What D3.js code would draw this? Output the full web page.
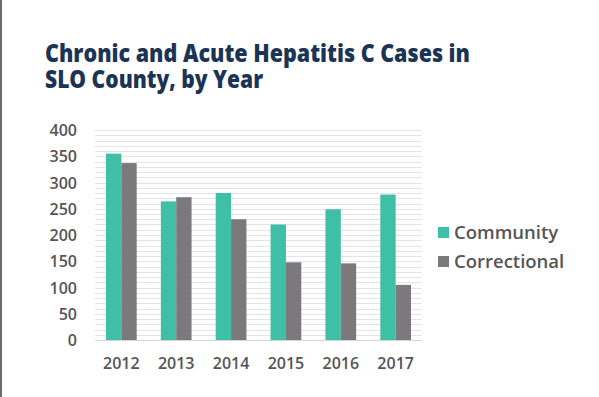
<!DOCTYPE html>
<html><head><meta charset="utf-8">
<script src="https://cdn.jsdelivr.net/npm/d3@7"></script>
<style>
html,body{margin:0;padding:0;background:#fff;}
svg{display:block;font-family:"Open Sans",sans-serif;}
</style></head>
<body>
<svg id="c" width="599" height="397"></svg>
<script>
const years = ["2012","2013","2014","2015","2016","2017"];
const community = [355, 264, 280, 220, 249, 277];
const correctional = [337, 272, 230, 148, 146, 105];
const seriesNames = ["Community","Correctional"];
const seriesColors = ["#3fbfa5","#7c797c"];
const yTicks = [0,50,100,150,200,250,300,350,400];
const titleLines = ["Chronic and Acute Hepatitis C Cases in","SLO County, by Year"];

const svg = d3.select("#c");
svg.append("rect").attr("x",0).attr("y",0).attr("width",599).attr("height",397).attr("fill","#fff");
svg.append("rect").attr("x",0).attr("y",0).attr("width",2).attr("height",397).attr("fill","#6b6b6b");

const pLeft=95, pRight=422, pTop=130, pBottom=340;
const y = d3.scaleLinear().domain([0,400]).range([pBottom,pTop]);
const x = d3.scaleBand().domain(years).range([pLeft,pRight]).paddingInner(0.44).paddingOuter(0.2);
const xs = d3.scaleBand().domain(seriesNames).range([0,x.bandwidth()]);

// grid lines every 10
const grid = d3.range(0,401,10);
svg.append("g").selectAll("line").data(grid).join("line")
  .attr("x1",pLeft).attr("x2",pRight)
  .attr("y1",d=>Math.round(y(d))+0.5).attr("y2",d=>Math.round(y(d))+0.5)
  .attr("stroke",d=>d===0?"#d6d6d6":"#e4e4e8").attr("stroke-width",1);

// y axis
const yAxis = d3.axisLeft(y).tickValues(yTicks).tickSize(0).tickPadding(0);
const gy = svg.append("g").attr("transform",`translate(77,0)`).call(yAxis);
gy.select(".domain").remove();
gy.selectAll("text").attr("font-size",16).attr("font-weight",600).attr("fill","#555557").attr("font-family","Open Sans").attr("dy","0.35em");

// x axis
const xAxis = d3.axisBottom(x).tickSize(0).tickPadding(0);
const gx = svg.append("g").attr("transform",`translate(0,${pBottom})`).call(xAxis);
gx.select(".domain").remove();
gx.selectAll("text").attr("font-size",16).attr("font-weight",600).attr("fill","#555557").attr("font-family","Open Sans").attr("dy",0).attr("y",29);

// bars
const data = years.map((yr,i)=>({yr, vals:[community[i],correctional[i]]}));
const groups = svg.append("g").selectAll("g").data(data).join("g")
  .attr("transform",d=>`translate(${x(d.yr)},0)`);
groups.selectAll("rect").data(d=>d.vals.map((v,j)=>({v,s:seriesNames[j],c:seriesColors[j]}))).join("rect")
  .attr("x",d=>xs(d.s)).attr("width",xs.bandwidth())
  .attr("y",d=>y(d.v)).attr("height",d=>pBottom-y(d.v))
  .attr("fill",d=>d.c);

// title (single text, two tspans)
const tl = [ {t:titleLines[0], y:62, w:425}, {t:titleLines[1], y:88, w:218} ];
svg.append("text").attr("font-size",24).attr("font-weight",800).attr("fill","#1b3456")
  .selectAll("tspan").data(tl).join("tspan")
  .attr("x",45).attr("y",d=>d.y).text(d=>d.t)
  .attr("textLength",d=>d.w).attr("lengthAdjust","spacingAndGlyphs");

// legend
const lg = svg.append("g").selectAll("g").data(seriesNames).join("g")
  .attr("transform",(d,i)=>`translate(438,${227+i*29})`);
lg.append("rect").attr("width",11).attr("height",11).attr("fill",(d,i)=>seriesColors[i]);
lg.append("text").attr("x",16).attr("y",11.5).text(d=>d)
  .attr("font-size",18.5).attr("font-weight",600).attr("fill","#555557");
</script>
</body></html>
